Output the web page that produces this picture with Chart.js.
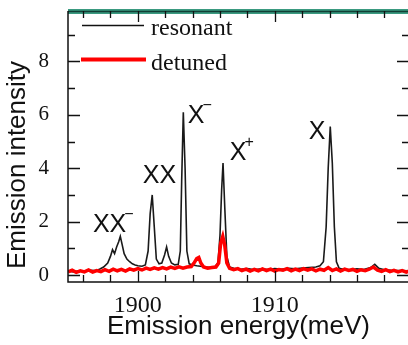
<!DOCTYPE html>
<html>
<head>
<meta charset="utf-8">
<script src="https://cdn.jsdelivr.net/npm/chart.js@4.4.0/dist/chart.umd.min.js"></script>
<style>
  html, body { margin: 0; padding: 0; background: #fff; overflow: hidden; width: 408px; height: 345px; }
  #wrap { position: relative; width: 420px; height: 345px; }
</style>
</head>
<body>
<div id="wrap"><canvas id="spectrum" width="420" height="345"></canvas></div>
<script>
// Resonant excitation spectrum (black)
var resonantE = [1894.9, 1895.3, 1895.7, 1896.1, 1896.5, 1896.9, 1897.2, 1897.5, 1897.8, 1898.0,
  1898.15, 1898.3, 1898.45, 1898.6, 1898.72, 1898.85, 1899.0, 1899.2, 1899.4, 1899.6,
  1899.8, 1900.0, 1900.3, 1900.55, 1900.75, 1900.9, 1901.05, 1901.2, 1901.35, 1901.55,
  1901.75, 1901.95, 1902.1, 1902.25, 1902.45, 1902.7, 1902.95, 1903.1, 1903.2, 1903.32,
  1903.45, 1903.58, 1903.75, 1904.0, 1904.3, 1904.7, 1905.0, 1905.3, 1905.6, 1905.85,
  1906.0, 1906.12, 1906.22, 1906.35, 1906.5, 1906.7, 1907.0, 1907.5, 1908.0, 1908.5,
  1909.0, 1909.5, 1910.0, 1910.5, 1911.0, 1911.5, 1912.0, 1912.5, 1913.0, 1913.3,
  1913.55, 1913.75, 1913.9, 1914.05, 1914.2, 1914.35, 1914.5, 1914.7, 1915.0, 1915.5,
  1916.0, 1916.5, 1917.0, 1917.3, 1917.6, 1918.0, 1918.5, 1919.0, 1919.8];
var resonantI = [0.15, 0.12, 0.16, 0.14, 0.18, 0.17, 0.22, 0.30, 0.45, 0.70,
  0.95, 0.80, 1.05, 1.25, 1.45, 1.15, 0.80, 0.60, 0.50, 0.42,
  0.38, 0.35, 0.33, 0.38, 0.90, 2.30, 3.00, 1.80, 0.60, 0.42,
  0.45, 0.75, 1.05, 0.70, 0.45, 0.38, 0.40, 0.90, 3.50, 6.10,
  4.00, 0.90, 0.42, 0.38, 0.35, 0.32, 0.30, 0.28, 0.30, 0.45,
  1.50, 3.20, 4.20, 2.50, 0.70, 0.30, 0.25, 0.22, 0.24, 0.20,
  0.23, 0.21, 0.24, 0.22, 0.25, 0.23, 0.26, 0.28, 0.30, 0.35,
  0.50, 1.80, 4.00, 5.56, 4.20, 1.80, 0.50, 0.25, 0.22, 0.20,
  0.23, 0.21, 0.28, 0.40, 0.25, 0.20, 0.18, 0.17, 0.16];

// Detuned excitation spectrum (red)
var detunedE = [1894.9, 1895.2, 1895.5, 1895.8, 1896.1, 1896.4, 1896.7, 1897.0, 1897.3, 1897.6,
  1897.9, 1898.2, 1898.5, 1898.8, 1899.1, 1899.4, 1899.7, 1900.0, 1900.3, 1900.6,
  1900.9, 1901.2, 1901.5, 1901.8, 1902.1, 1902.4, 1902.7, 1903.0, 1903.3, 1903.6,
  1903.9, 1904.1, 1904.3, 1904.45, 1904.6, 1904.8, 1905.1, 1905.4, 1905.7, 1905.9,
  1906.05, 1906.2, 1906.35, 1906.5, 1906.7, 1907.0, 1907.3, 1907.6, 1907.9, 1908.2,
  1908.5, 1908.8, 1909.1, 1909.4, 1909.7, 1910.0, 1910.3, 1910.6, 1910.9, 1911.2,
  1911.5, 1911.8, 1912.1, 1912.4, 1912.7, 1913.0, 1913.3, 1913.6, 1913.9, 1914.2,
  1914.5, 1914.8, 1915.1, 1915.4, 1915.7, 1916.0, 1916.3, 1916.6, 1916.9, 1917.2,
  1917.5, 1917.8, 1918.1, 1918.4, 1918.7, 1919.0, 1919.3, 1919.6, 1919.8];
var detunedI = [0.12, 0.18, 0.10, 0.16, 0.12, 0.19, 0.11, 0.17, 0.13, 0.20,
  0.14, 0.22, 0.16, 0.21, 0.15, 0.23, 0.18, 0.24, 0.19, 0.26,
  0.21, 0.27, 0.22, 0.28, 0.23, 0.30, 0.25, 0.31, 0.26, 0.30,
  0.32, 0.45, 0.62, 0.66, 0.45, 0.30, 0.26, 0.28, 0.30, 0.45,
  1.20, 1.45, 1.10, 0.45, 0.25, 0.20, 0.24, 0.17, 0.22, 0.15,
  0.21, 0.16, 0.23, 0.17, 0.22, 0.15, 0.21, 0.18, 0.24, 0.16,
  0.22, 0.17, 0.24, 0.18, 0.23, 0.16, 0.22, 0.18, 0.28, 0.17,
  0.23, 0.15, 0.22, 0.17, 0.21, 0.14, 0.20, 0.16, 0.22, 0.30,
  0.18, 0.14, 0.20, 0.13, 0.18, 0.12, 0.17, 0.11, 0.15];

var xTickLabels = [1900, 1910];
var xTickMarks = [1896, 1898, 1900, 1902, 1904, 1906, 1908, 1910, 1912, 1914, 1916, 1918];
var yTickLabels = [0, 2, 4, 6, 8];
var yTickMarks = [0, 1, 2, 3, 4, 5, 6, 7, 8, 9];

// Peak names: main text, superscript, anchor (energy, intensity) at text baseline-left
var peakNames = ['XX', 'XX', 'X', 'X', 'X'];
var peakSups = ['\u2212', '', '\u2212', '+', ''];
var peakE = [1896.72, 1900.36, 1903.65, 1906.72, 1912.48];
var peakI = [1.61, 3.45, 5.70, 4.32, 5.10];

function toPoints(xs, ys) {
  return xs.map(function (v, i) { return { x: v, y: ys[i] }; });
}

// Frame, inward ticks, legend, titles and peak labels.
var framePlugin = {
  id: 'frame',
  afterDraw: function (chart) {
    var ctx = chart.ctx;
    var a = chart.chartArea;
    var xs = chart.scales.x, ys = chart.scales.y;
    ctx.save();

    // top border (teal)
    ctx.fillStyle = '#3a9a80';
    ctx.fillRect(a.left, a.top - 2, 420 - a.left, 5);
    ctx.strokeStyle = '#123f35';
    ctx.lineWidth = 1.3;
    ctx.beginPath(); ctx.moveTo(a.left, a.top + 0.5); ctx.lineTo(420, a.top + 0.5); ctx.stroke();

    ctx.strokeStyle = '#111';
    ctx.lineWidth = 1.5;
    ctx.beginPath();
    ctx.moveTo(a.left, a.top); ctx.lineTo(a.left, a.bottom);
    ctx.lineTo(a.right, a.bottom); ctx.lineTo(a.right, a.top);
    ctx.stroke();

    ctx.lineWidth = 1.3;
    ctx.beginPath();
    xTickMarks.forEach(function (v) {
      var px = Math.round(xs.getPixelForValue(v)) + 0.5;
      var len = xTickLabels.indexOf(v) >= 0 ? 11 : 7;
      ctx.moveTo(px, a.bottom); ctx.lineTo(px, a.bottom - len);
      ctx.moveTo(px, a.top); ctx.lineTo(px, a.top + len);
    });
    yTickMarks.forEach(function (v) {
      var py = Math.round(ys.getPixelForValue(v)) + 0.5;
      var len = yTickLabels.indexOf(v) >= 0 ? 12 : 7;
      ctx.moveTo(a.left, py); ctx.lineTo(a.left + len, py);
      ctx.moveTo(a.right, py); ctx.lineTo(a.right - len, py);
    });
    ctx.stroke();

    // legend
    ctx.strokeStyle = '#111';
    ctx.lineWidth = 1.3;
    ctx.beginPath(); ctx.moveTo(82, 25.5); ctx.lineTo(144, 25.5); ctx.stroke();
    ctx.strokeStyle = '#ff0000';
    ctx.lineWidth = 4;
    ctx.beginPath(); ctx.moveTo(81, 59.5); ctx.lineTo(146, 59.5); ctx.stroke();
    ctx.fillStyle = '#111';
    ctx.font = '24px "Liberation Serif"';
    ctx.textAlign = 'left';
    ctx.textBaseline = 'alphabetic';
    ctx.fillText('resonant', 151, 35);
    ctx.fillText('detuned', 151, 70);

    // peak labels
    peakNames.forEach(function (name, i) {
      var px = xs.getPixelForValue(peakE[i]);
      var py = ys.getPixelForValue(peakI[i]);
      ctx.font = '25px "Liberation Sans"';
      ctx.fillText(name, px, py);
      if (peakSups[i]) {
        var w = ctx.measureText(name).width;
        ctx.font = '16px "Liberation Sans"';
        ctx.fillText(peakSups[i], px + w - 2, py - 13);
      }
    });

    // axis titles
    ctx.font = '26px "Liberation Sans"';
    ctx.textAlign = 'center';
    ctx.textBaseline = 'middle';
    ctx.fillText('Emission energy(meV)', (a.left + a.right) / 2, 327);
    ctx.translate(18, 165);
    ctx.rotate(-Math.PI / 2);
    ctx.fillText('Emission intensity', 0, 0);
    ctx.restore();
  }
};

var ctx = document.getElementById('spectrum');
var spectrumChart = new Chart(ctx, {
  type: 'line',
  data: {
    datasets: [
      {
        label: 'detuned',
        data: toPoints(detunedE, detunedI),
        borderColor: '#ff0000',
        borderWidth: 3.5,
        pointRadius: 0,
        tension: 0,
        order: 0
      },
      {
        label: 'resonant',
        data: toPoints(resonantE, resonantI),
        borderColor: '#1a1a1a',
        borderWidth: 1.6,
        pointRadius: 0,
        tension: 0,
        order: 1
      }
    ]
  },
  options: {
    responsive: false,
    animation: false,
    layout: { padding: { top: 11, right: 11, left: 0, bottom: 0 } },
    plugins: { legend: { display: false }, tooltip: { enabled: false } },
    scales: {
      x: {
        type: 'linear',
        min: 1894.9,
        max: 1919.8,
        grid: { display: false },
        border: { display: false },
        afterBuildTicks: function (s) { s.ticks = xTickLabels.map(function (v) { return { value: v }; }); },
        afterFit: function (s) { s.height = 63; s.paddingLeft = 0; s.paddingRight = 0; },
        ticks: {
          autoSkip: false,
          maxRotation: 0,
          padding: 1,
          color: '#111',
          font: { family: 'Liberation Serif', size: 24 },
          callback: function (v) { return String(v); }
        }
      },
      y: {
        type: 'linear',
        min: -0.26,
        max: 9.89,
        grid: { display: false },
        border: { display: false },
        afterBuildTicks: function (s) { s.ticks = yTickLabels.map(function (v) { return { value: v }; }); },
        afterFit: function (s) { s.width = 68; s.paddingTop = 0; s.paddingBottom = 0; },
        ticks: {
          padding: 11,
          color: '#111',
          font: { family: 'Liberation Serif', size: 21 },
          callback: function (v) { return String(v); }
        }
      }
    }
  },
  plugins: [framePlugin]
});
</script>
</body>
</html>
